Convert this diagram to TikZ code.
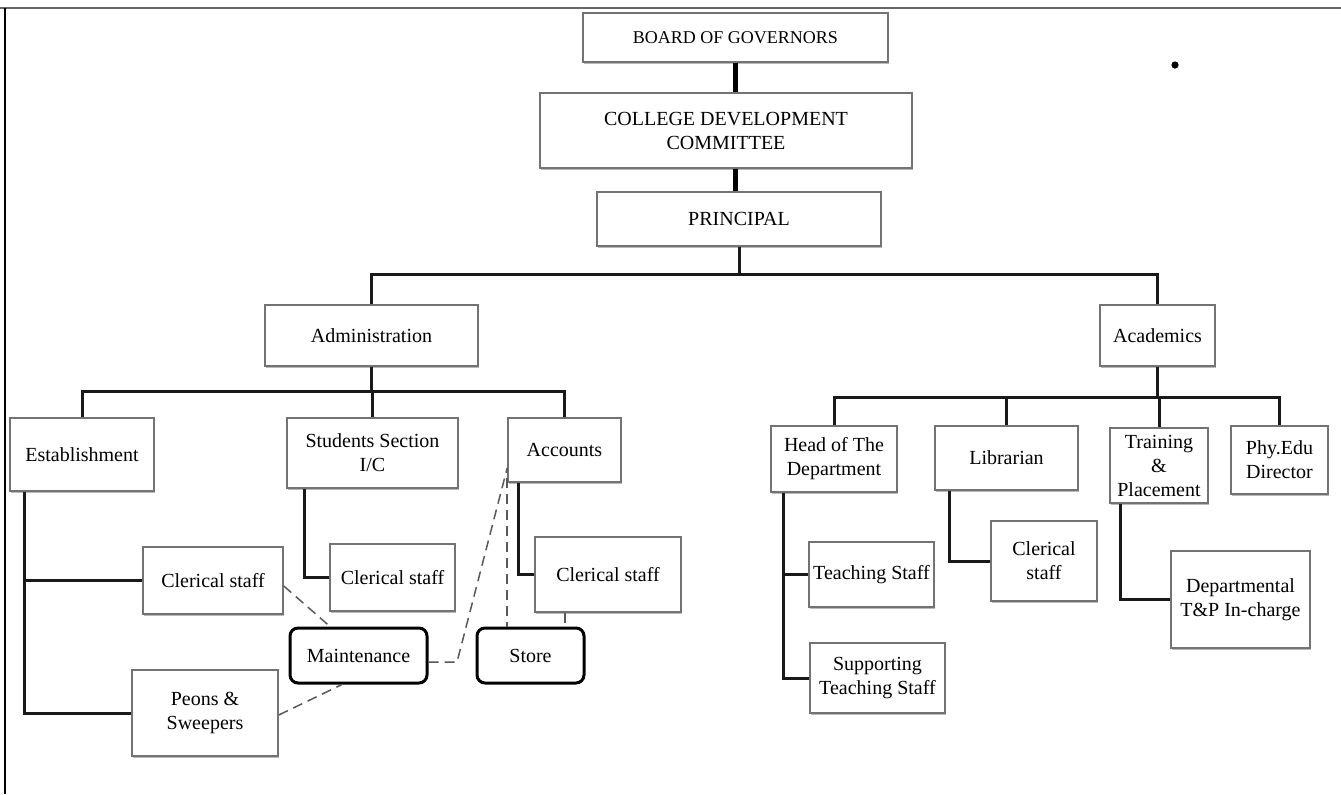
\documentclass[tikz,border=0pt]{standalone}
\usepackage{fontspec}
\setmainfont{Liberation Serif}
\usetikzlibrary{shadows}
\begin{document}
\begin{tikzpicture}[x=0.5pt,y=-0.5pt,
  box/.style={draw=black!55, line width=0.8pt, fill=white, inner sep=0pt, align=center,
    font=\fontsize{10}{12}\selectfont, text=black,
    drop shadow={shadow xshift=0.6pt, shadow yshift=-0.8pt, fill=black!45, opacity=0.6}},
  rbox/.style={draw=black, line width=1.5pt, rounded corners=4pt, fill=white, inner sep=0pt,
    align=center, font=\fontsize{10}{12}\selectfont, text=black},
  conn/.style={draw=black!90, line width=1.5pt},
  tconn/.style={draw=black, line width=2.2pt},
  dconn/.style={draw=black!65, line width=0.75pt, dash pattern=on 5pt off 3pt}]
\useasboundingbox (0,0) rectangle (1341,794);
\fill[white] (0,0) rectangle (1341,794);
% frame
\draw[black!60, line width=0.8pt] (0,8) -- (1341,8);
\draw[black, line width=0.8pt] (5,8) -- (5,794);
\fill (1175,65) circle (1.8pt);

% nodes
\node[box, minimum width=152.5pt, minimum height=24.5pt, font=\fontsize{9}{11}\selectfont] (bog) at (735.5,37.5) {BOARD OF GOVERNORS};
\node[box, minimum width=186pt, minimum height=37.5pt] (cdc) at (726,130.5) {COLLEGE DEVELOPMENT\\COMMITTEE};
\node[box, minimum width=142pt, minimum height=27pt] (prin) at (739,219) {PRINCIPAL};
\node[box, minimum width=106.5pt, minimum height=30.5pt] (adm) at (371.5,335.5) {Administration};
\node[box, minimum width=57.5pt, minimum height=30.5pt] (acad) at (1157.5,335.5) {Academics};

\node[box, minimum width=72pt, minimum height=36.5pt] (est) at (82,454.5) {Establishment};
\node[box, minimum width=85.5pt, minimum height=35pt] (stu) at (372.5,453) {Students Section\\I/C};
\node[box, minimum width=56.5pt, minimum height=32pt] (acc) at (564.5,450) {Accounts};
\node[box, minimum width=70pt, minimum height=33.5pt] (cl1) at (213,580.5) {Clerical staff};
\node[box, minimum width=73pt, minimum height=43pt] (peon) at (205,713) {Peons \&\\Sweepers};
\node[box, minimum width=62.5pt, minimum height=33.5pt] (cl2) at (392.5,577.5) {Clerical staff};
\node[box, minimum width=73pt, minimum height=37.5pt] (cl3) at (608,574.5) {Clerical staff};
\node[rbox, minimum width=68.5pt, minimum height=27.5pt] (maint) at (358.5,655.5) {Maintenance};
\node[rbox, minimum width=53.5pt, minimum height=27.5pt] (store) at (530.5,655.5) {Store};

\node[box, minimum width=63pt, minimum height=33pt] (hod) at (834,459) {Head of The\\Department};
\node[box, minimum width=71.5pt, minimum height=32pt] (lib) at (1006.5,458) {Librarian};
\node[box, minimum width=49pt, minimum height=37.5pt] (tp) at (1159,465.5) {Training\\\&\\Placement};
\node[box, minimum width=48.5pt, minimum height=34pt] (phy) at (1279.5,460) {Phy.Edu\\Director};
\node[box, minimum width=62.5pt, minimum height=32.5pt] (teach) at (871.5,574.5) {Teaching Staff};
\node[box, minimum width=67.5pt, minimum height=35pt] (supp) at (877.5,678) {Supporting\\Teaching Staff};
\node[box, minimum width=53pt, minimum height=40pt] (cl4) at (1044,561) {Clerical\\staff};
\node[box, minimum width=69.5pt, minimum height=48.5pt] (dep) at (1240.5,599.5) {Departmental\\T\&P In-charge};

% bus coordinates
\coordinate (b1) at (739,274);
\coordinate (b2) at (372,391);
\coordinate (b3) at (1158,397);

% top chain
\draw[tconn] (bog.south) -- (bog.south |- cdc.north);
\draw[tconn] (bog.south |- cdc.south) -- (bog.south |- prin.north);
\draw[conn] (prin.south) -- (prin.south |- b1);
\draw[conn] (adm.north) -- (adm.north |- b1) -- (acad.north |- b1) -- (acad.north);

% administration
\draw[conn] (adm.south) -- (adm.south |- b2);
\draw[conn] (est.north) -- (est.north |- b2) -- (acc.north |- b2) -- (acc.north);
\draw[conn] (stu.north) -- (stu.north |- b2);
\draw[conn] ([xshift=7.5pt]est.south west) |- (cl1.west);
\draw[conn] ([xshift=7.5pt]est.south west) |- (peon.west);
\draw[conn] ([xshift=9pt]stu.south west) |- (cl2.west);
\draw[conn] ([xshift=5.5pt]acc.south west) |- (cl3.west);

% academics
\draw[conn] (acad.south) -- (acad.south |- b3);
\draw[conn] (hod.north) -- (hod.north |- b3) -- (phy.north |- b3) -- (phy.north);
\draw[conn] (lib.north) -- (lib.north |- b3);
\draw[conn] (tp.north) -- (tp.north |- b3);
\draw[conn] ([xshift=6.5pt]hod.south west) |- (teach.west);
\draw[conn] ([xshift=6.5pt]hod.south west) |- (supp.west);
\draw[conn] ([xshift=7.5pt]lib.south west) |- (cl4.west);
\draw[conn] ([xshift=5.5pt]tp.south west) |- (dep.west);

% dashed links
\coordinate (mk) at (457,662);
\draw[dconn] ([yshift=-2.75pt]cl1.east) -- ([xshift=-14.25pt]maint.north);
\draw[dconn] ([yshift=-1pt]peon.east) -- ([xshift=-8.25pt]maint.south);
\draw[dconn] ([yshift=-3.25pt]maint.east) -- (mk) -- ([yshift=-9pt]acc.west);
\draw[dconn] ([yshift=2.5pt]acc.south west) -- (acc.south west |- store.north);
\draw[dconn] ([xshift=-21.5pt]cl3.south) -- ([xshift=-21.5pt]cl3.south |- store.north);
\end{tikzpicture}
\end{document}
